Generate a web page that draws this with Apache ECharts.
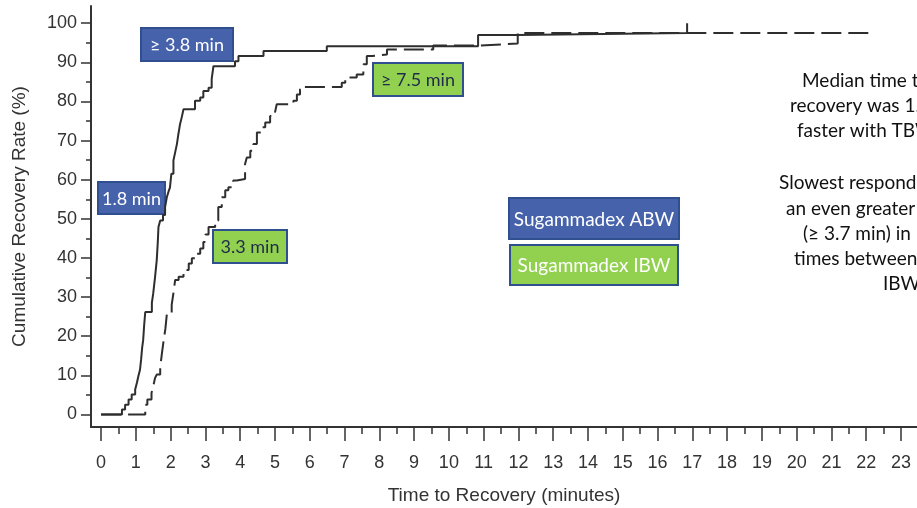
<!DOCTYPE html>
<html><head><meta charset="utf-8">
<script src="https://cdn.jsdelivr.net/npm/echarts@6/dist/echarts.min.js"></script>
<style>html,body{margin:0;padding:0;background:#fff;overflow:hidden}#c{width:917px;height:508px}</style>
</head><body><div id="c"></div>
<script>
// ---- data (Kaplan-Meier style step curves: time in minutes, cumulative recovery %) ----
const abwTime = [0, 0.60, 0.69, 0.79, 0.88, 0.98, 1.03, 1.07, 1.12, 1.15, 1.18, 1.21, 1.24, 1.27, 1.46, 1.50, 1.55, 1.60, 1.63, 1.65, 1.70, 1.78, 1.84, 1.89, 1.94, 1.98, 2.02, 2.08, 2.13, 2.18, 2.22, 2.27, 2.32, 2.37, 2.70, 2.85, 2.94, 3.09, 3.18, 3.23, 3.85, 3.95, 4.67, 6.49, 10.84, 11.98, 16.85];
const abwRate = [0, 1.3, 2.5, 3.8, 5.1, 6.4, 8.1, 9.7, 11.5, 14, 17, 19, 23, 26.2, 28.5, 31, 35, 39.4, 44, 47.9, 49.6, 51, 53, 55.5, 57, 58, 61.5, 64.9, 67, 69.1, 71.5, 74.2, 76, 78, 80.2, 81, 82.7, 83.5, 85.7, 89, 90.3, 91.6, 92.9, 94.1, 97.0, 97.5, 100];
const ibwTime = [0, 1.27, 1.33, 1.45, 1.50, 1.55, 1.60, 1.70, 1.75, 1.80, 1.85, 1.89, 2.03, 2.08, 2.13, 2.23, 2.37, 2.52, 2.61, 2.75, 2.85, 2.94, 3.00, 3.09, 3.28, 3.37, 3.47, 3.57, 3.66, 3.80, 3.90, 4.14, 4.19, 4.29, 4.38, 4.48, 4.62, 4.72, 4.86, 5.00, 5.05, 5.53, 5.63, 5.72, 5.82, 6.92, 7.02, 7.35, 7.54, 7.64, 7.79, 8.22, 9.55, 10.84, 11.98, 22.06];
const ibwRate = [0, 2.5, 3.8, 5.5, 7.2, 9.3, 10.2, 12, 15.7, 19, 22, 25.6, 28, 31, 34.4, 35.2, 36.9, 38.6, 39.9, 41.1, 42.4, 44.1, 46, 47.9, 49.6, 53, 55.5, 57.3, 58.1, 59.8, 60.2, 64, 65.7, 67.4, 69.1, 72.1, 73.4, 74.6, 76.3, 77.2, 79.3, 80.2, 81.8, 83.1, 83.7, 84.8, 86.1, 86.9, 89.5, 91.6, 92, 93.3, 94.3, 94.8, 97.5, 97.5];

// ---- tick labels ----
const xMajor = [0,1,2,3,4,5,6,7,8,9,10,11,12,13,14,15,16,17,18,19,20,21,22,23];
const xMinor = [0.5,1.5,2.5,3.5,4.5,5.5,6.5,7.5,8.5,9.5,10.5,11.5,12.5,13.5,14.5,15.5,16.5,17.5,18.5,19.5,20.5,21.5,22.5];
const yMajor = [0,10,20,30,40,50,60,70,80,90,100];
const yMinor = [5,15,25,35,45,55,65,75,85,95];

// ---- annotation texts ----
const seriesNames = ['Sugammadex ABW', 'Sugammadex IBW'];
const calloutTexts = ['≥ 3.8 min', '1.8 min', '3.3 min', '≥ 7.5 min'];
const noteLines = ['Median time to', 'recovery was 1.5 min', 'faster with TBW', 'Slowest responders had', 'an even greater difference', '(≥ 3.7 min) in recovery', 'times between TBW and', 'IBW'];

const BLUE = '#4662ab', GREEN = '#92d050', BORDER = '#2f4f8f', INK = '#333333';
const AXIS_FONT = 'Liberation Sans';

const chart = echarts.init(document.getElementById('c'), null, {renderer: 'canvas'});

function pairs(t, v) { return t.map((x, i) => [x, v[i]]); }

const boxes = [
  {t: calloutTexts[0], x: 140, y: 27, w: 92, h: 33, fill: BLUE, color: '#ffffff', fs: 18},
  {t: calloutTexts[1], x: 97, y: 181, w: 67, h: 32, fill: BLUE, color: '#ffffff', fs: 18},
  {t: calloutTexts[2], x: 212, y: 229, w: 74, h: 33, fill: GREEN, color: '#1f2b4a', fs: 18},
  {t: calloutTexts[3], x: 372, y: 62, w: 90, h: 33, fill: GREEN, color: '#1f2b4a', fs: 18},
  {t: seriesNames[0], x: 508, y: 197, w: 170, h: 41, fill: BLUE, color: '#ffffff', fs: 19},
  {t: seriesNames[1], x: 509, y: 244, w: 168, h: 40, fill: GREEN, color: '#ffffff', fs: 19}
];
const notePos = [[802, 81], [790, 106], [797, 131], [779, 183], [786, 209], [803, 234], [794, 259], [883, 284]];

const graphic = [];
boxes.forEach(b => {
  graphic.push({
    type: 'group', left: b.x, top: b.y, z: 100,
    children: [
      {type: 'rect', shape: {x: 0, y: 0, width: b.w, height: b.h}, style: {fill: b.fill, stroke: BORDER, lineWidth: 2}},
      {type: 'text', style: {text: b.t, x: b.w / 2, y: b.h / 2 + 1, textAlign: 'center', textVerticalAlign: 'middle', fill: b.color, font: b.fs + 'px Lato'}}
    ]
  });
});
noteLines.forEach((s, i) => {
  graphic.push({type: 'text', x: notePos[i][0], y: notePos[i][1], z: 100,
    style: {text: s, textAlign: 'left', textVerticalAlign: 'middle', fill: '#111111', font: '19px Lato'}});
});

const axisLineStyle = {color: INK, width: 2};
const tickLine = {color: INK, width: 1.5};

chart.setOption({
  animation: false,
  backgroundColor: '#ffffff',
  grid: {left: 91, right: 0, top: 6, bottom: 81, containLabel: false, outerBoundsMode: 'none'},
  xAxis: [
    {
      type: 'value', min: -0.29, max: 23.46, position: 'bottom',
      axisLine: {show: true, onZero: false, lineStyle: axisLineStyle},
      axisTick: {show: true, customValues: xMajor, length: 14, lineStyle: tickLine},
      axisLabel: {customValues: xMajor, margin: 27, color: INK, fontSize: 18, fontFamily: AXIS_FONT},
      splitLine: {show: false},
      name: 'Time to Recovery (minutes)', nameLocation: 'middle', nameGap: 59,
      nameTextStyle: {color: INK, fontSize: 19, fontFamily: AXIS_FONT}
    },
    {
      type: 'value', min: -0.29, max: 23.46, position: 'bottom', offset: 0,
      axisLine: {show: false, onZero: false},
      axisTick: {show: true, customValues: xMinor, length: 7, lineStyle: tickLine},
      axisLabel: {show: false},
      splitLine: {show: false}
    }
  ],
  yAxis: [
    {
      type: 'value', min: -3.2, max: 104.4, position: 'left',
      axisLine: {show: true, onZero: false, lineStyle: axisLineStyle},
      axisTick: {show: true, customValues: yMajor, length: 10, lineStyle: tickLine},
      axisLabel: {customValues: yMajor, margin: 14, color: INK, fontSize: 18, fontFamily: AXIS_FONT},
      splitLine: {show: false},
      name: 'Cumulative Recovery Rate (%)', nameLocation: 'middle', nameGap: 62, nameRotate: 90,
      nameTextStyle: {color: INK, fontSize: 19, fontFamily: AXIS_FONT}
    },
    {
      type: 'value', min: -3.2, max: 104.4, position: 'left', offset: 0,
      axisLine: {show: false, onZero: false},
      axisTick: {show: true, customValues: yMinor, length: 5, lineStyle: tickLine},
      axisLabel: {show: false},
      splitLine: {show: false}
    }
  ],
  series: [
    {
      name: seriesNames[0], type: 'line', step: 'end', showSymbol: false, symbol: 'none',
      xAxisIndex: 0, yAxisIndex: 0, data: pairs(abwTime, abwRate),
      lineStyle: {color: '#2e2e2e', width: 2}
    },
    {
      name: seriesNames[1], type: 'line', step: 'end', showSymbol: false, symbol: 'none',
      xAxisIndex: 0, yAxisIndex: 0, data: pairs(ibwTime, ibwRate),
      lineStyle: {color: '#2e2e2e', width: 2, type: [20, 7]}
    }
  ],
  graphic: graphic
});
</script>
</body></html>
